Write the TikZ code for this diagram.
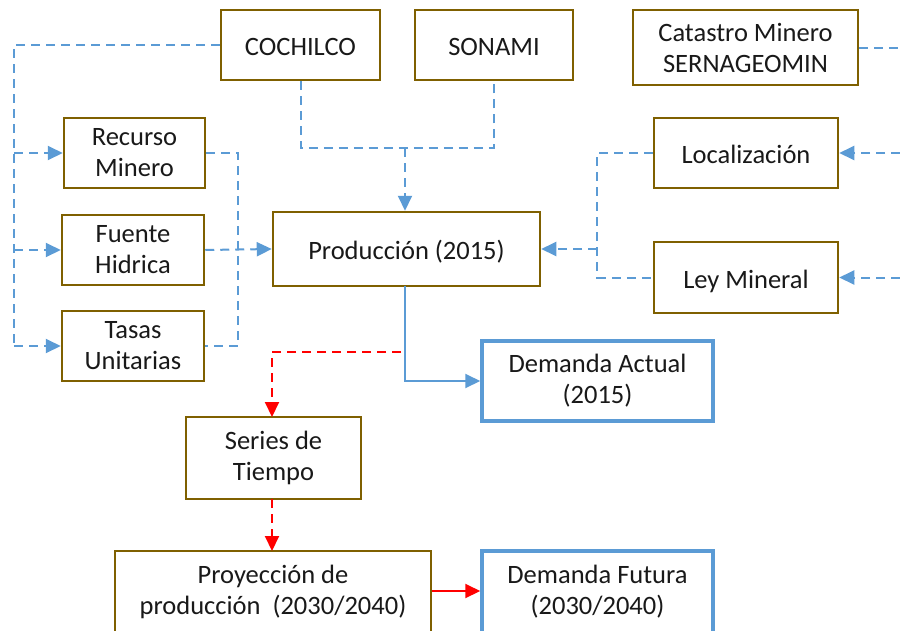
\documentclass[tikz,border=0pt]{standalone}
\usepackage{fontspec}
\setmainfont{Carlito}
\usetikzlibrary{arrows.meta}
\definecolor{brn}{HTML}{7F6000}
\definecolor{blu}{HTML}{5B9BD5}
\definecolor{rd}{HTML}{FF0000}
\begin{document}
\begin{tikzpicture}[x=1pt,y=-1pt,
 box/.style={draw=brn,line width=2.5pt,align=center,font=\fontsize{26.5}{31}\selectfont,inner sep=0pt,fill=white,text=black!90},
 one/.style={text height=21pt,text depth=0pt},
 bbox/.style={box,draw=blu,line width=3.5pt},
 bl/.style={draw=blu,line width=2pt,dash pattern=on 9pt off 6pt},
 bla/.style={bl,-{Triangle[length=15pt,width=14pt]}},
 bsa/.style={draw=blu,line width=2pt,-{Triangle[length=15pt,width=14pt]}},
 rda/.style={draw=rd,line width=2pt,dash pattern=on 9pt off 6pt,-{Triangle[length=15pt,width=14pt]}},
 rsa/.style={draw=rd,line width=2pt,-{Triangle[length=15pt,width=14pt]}}
]
\useasboundingbox (0,0) rectangle (900,630);
\clip (0,0) rectangle (900,630);
\fill[white] (0,0) rectangle (900,630);

\node[box,one,minimum width=159pt,minimum height=70pt] (coch) at (300.5,45) {COCHILCO};
\node[box,one,minimum width=158pt,minimum height=70pt] (son) at (494,45) {SONAMI};
\node[box,minimum width=225pt,minimum height=75pt] (cat) at (745.5,47.5) {Catastro Minero\\SERNAGEOMIN};
\node[box,minimum width=141pt,minimum height=70pt] (rec) at (134.5,153) {Recurso\\Minero};
\node[box,minimum width=142pt,minimum height=70pt] (fue) at (133,250) {Fuente\\Hidrica};
\node[box,minimum width=142pt,minimum height=70pt] (tas) at (133,346) {Tasas\\Unitarias};
\node[box,one,minimum width=267pt,minimum height=74pt] (prod) at (406.5,249) {Producción (2015)};
\node[box,one,minimum width=184pt,minimum height=70pt] (loc) at (746,153) {Localización};
\node[box,one,minimum width=184pt,minimum height=71pt] (ley) at (746,277.5) {Ley Mineral};
\node[bbox,minimum width=231pt,minimum height=80pt] (dact) at (597.5,381) {Demanda Actual\\(2015)};
\node[box,minimum width=175pt,minimum height=82pt] (ser) at (273.5,458) {Series de\\Tiempo};
\node[box,minimum width=316pt,minimum height=82pt] (proy) at (273,592) {Proyección de\\producción\ \ (2030/2040)};
\node[bbox,minimum width=231pt,minimum height=82pt] (dfut) at (597.5,592) {Demanda Futura\\(2030/2040)};

% left bus from COCHILCO
\coordinate (bt) at (14,45);
\coordinate (bb) at (14,346);
\draw[bl] (coch.west) -- (bt) -- (bb);
\draw[bla] (14,153) -- (rec.west);
\draw[bla] (14,250) -- (fue.west);
\draw[bla] (bb) -- (tas.west);

% right side of left column
\draw[bl] (rec.east) -- (238,153) -- (238,346) -- (tas.east);
\draw[bla] (fue.east) -- (prod.west);

% COCHILCO / SONAMI merge
\coordinate (m) at (405,148);
\draw[bl] (coch.south) |- (m) -| (son.south);
\draw[bla] (m) -- (m |- prod.north);

% right group
\coordinate (r1) at (900,153);
\coordinate (r2) at (900,277.5);
\coordinate (r0) at (900,47.5);
\draw[bl] (cat.east) -- (r0);
\draw[bla] (r1) -- (loc.east);
\draw[bla] (r2) -- (ley.east);
\coordinate (rm) at (597,249);
\draw[bl] (loc.west) -| (rm) |- (ley.west);
\draw[bla] (rm) -- (prod.east);

% production to demand
\coordinate (pd) at (405,381);
\draw[bsa] (405,286) -- (pd) -- (dact.west);

% red path
\coordinate (rs) at (401,352);
\draw[rda] (rs) -- (272,352) -- (272,417);
\draw[rda] (272,499) -- (272,551);
\draw[rsa] (proy.east |- 0,591) -- (dfut.west |- 0,591);
\end{tikzpicture}
\end{document}
